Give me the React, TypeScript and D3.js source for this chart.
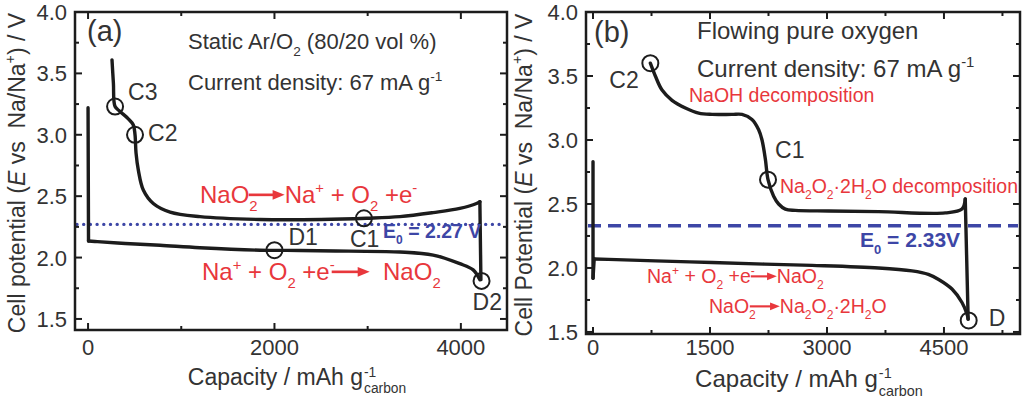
import React, { useEffect, useRef } from "react";
import * as d3 from "d3";

// (a) static Ar/O2 : discharge then charge (capacity mAh/g, potential V)
const dischargeA_cap = [0, 5, 100, 400, 772, 1200, 1845, 2273, 2800, 3346, 3703, 3989, 4132, 4204];
const dischargeA_v = [3.22, 2.135, 2.13, 2.115, 2.1, 2.08, 2.06, 2.058, 2.052, 2.045, 2.02, 1.95, 1.9, 1.82];
const chargeA_cap = [4215, 4204, 4168, 3989, 3703, 3346, 2988, 2500, 1845, 1201, 880, 700, 593, 540, 515, 504, 486, 432, 343, 290, 272, 257];
const chargeA_v = [1.82, 2.455, 2.44, 2.4, 2.366, 2.333, 2.32, 2.31, 2.31, 2.333, 2.37, 2.44, 2.55, 2.71, 2.85, 3.0, 3.08, 3.13, 3.19, 3.23, 3.42, 3.61];
const markerA_names = ["C3", "C2", "C1", "D1", "D2"];
const markerA_cap = [290, 504, 2960, 2000, 4222];
const markerA_v = [3.23, 3.0, 2.32, 2.06, 1.81];
const e0A = 2.27;

// (b) flowing pure oxygen
const dischargeB_cap = [0, 0, 15, 300, 800, 1526, 2200, 2808, 3662, 4090, 4300, 4432, 4603, 4731, 4795, 4810];
const dischargeB_v = [2.83, 1.92, 2.07, 2.065, 2.055, 2.043, 2.03, 2.02, 2.0, 1.977, 1.95, 1.91, 1.835, 1.73, 1.64, 1.6];
const chargeB_cap = [4810, 4773, 4731, 4517, 3662, 3021, 2594, 2466, 2380, 2316, 2244, 2210, 2167, 2124, 2038, 1910, 1782, 1526, 1355, 1184, 1013, 885, 799, 735];
const chargeB_v = [1.6, 2.54, 2.46, 2.43, 2.44, 2.445, 2.45, 2.46, 2.5, 2.56, 2.69, 2.85, 3.0, 3.08, 3.16, 3.2, 3.2, 3.2, 3.21, 3.25, 3.31, 3.39, 3.5, 3.6];
const markerB_names = ["C2", "C1", "D"];
const markerB_cap = [735, 2244, 4817];
const markerB_v = [3.6, 2.69, 1.59];
const e0B = 2.33;

const yMajor = [1.5, 2.0, 2.5, 3.0, 3.5, 4.0];
const yMinor = [1.75, 2.25, 2.75, 3.25, 3.75];
const xMajorA = [0, 2000, 4000];
const xMinorA = [1000, 3000];
const xMajorB = [0, 1500, 3000, 4500];
const xMinorB = [750, 2250, 3750, 5250];

const FONT = "'Liberation Sans', Arial, Helvetica, sans-serif";
const INK = "#333333";
const LINE = "#1c1c1c";
const RED = "#e8373c";
const BLUE = "#3d46a6";

type Run = { t?: string; sub?: boolean; sup?: boolean; italic?: boolean; arrow?: number; back?: number; stack?: [string, string] };

// draws a run of text pieces left to right, returns total width
function rich(g: any, x: number, y: number, runs: Run[], size: number, color: string, weight = "normal") {
  let cx = x;
  runs.forEach((r) => {
    if (r.arrow) {
      const x0 = cx - (r.back || 0);
      const x1 = x0 + r.arrow;
      const ay = y - size * 0.34;
      const hl = size * 0.5;
      const hw = size * 0.2;
      g.append("line").attr("x1", x0).attr("x2", x1 - hl + 1).attr("y1", ay).attr("y2", ay)
        .attr("stroke", color).attr("stroke-width", size * 0.11);
      g.append("path").attr("d", `M${x1},${ay}L${x1 - hl},${ay - hw}L${x1 - hl},${ay + hw}Z`).attr("fill", color);
      cx = x1;
      return;
    }
    if (r.stack) {
      const fs = size * 0.6;
      const a = g.append("text").attr("x", cx + 1).attr("y", y - size * 0.36).attr("font-size", fs)
        .attr("fill", color).text(r.stack[0]);
      const b = g.append("text").attr("x", cx + 1).attr("y", y + size * 0.36).attr("font-size", fs)
        .attr("fill", color).text(r.stack[1]);
      cx += Math.max(a.node().getComputedTextLength(), b.node().getComputedTextLength()) + 1;
      return;
    }
    const small = r.sub || r.sup;
    const fs = small ? size * 0.62 : size;
    const dy = r.sub ? size * 0.32 : r.sup ? -size * 0.42 : 0;
    const t = g.append("text").attr("x", cx).attr("y", y + dy).attr("font-size", fs)
      .attr("fill", color).attr("font-weight", weight)
      .style("white-space", "pre").style("font-style", r.italic ? "italic" : null)
      .text(r.t);
    cx += t.node().getComputedTextLength();
  });
  return cx - x;
}

type Series = { cap: number[]; v: number[]; corners: number[] };
type Panel = {
  x0: number; x1: number; y0: number; y1: number;
  xDom: [number, number]; yDom: [number, number];
  xMajor: number[]; xMinor: number[];
  series: Series[];
  markers: { names: string[]; cap: number[]; v: number[]; off: [number, number][] };
  e0: number; e0Dash: string; e0Cap: "round" | "butt"; e0Width: number;
  yLabelWord: string; yLabelX: number;
  xLabelSize: number; xLabelBase: number;
};

export default function App() {
  const svgRef = useRef<SVGSVGElement>(null);

  useEffect(() => {
    const svg = d3.select(svgRef.current);
    svg.selectAll("*").remove();
    svg.attr("font-family", FONT);

    const panels: Panel[] = [
      {
        x0: 75, x1: 507, y0: 12, y1: 330,
        xDom: [-140, 4495], yDom: [1.41, 4.0],
        xMajor: xMajorA, xMinor: xMinorA,
        series: [
          { cap: dischargeA_cap, v: dischargeA_v, corners: [1] },
          { cap: chargeA_cap, v: chargeA_v, corners: [1] },
        ],
        markers: { names: markerA_names, cap: markerA_cap, v: markerA_v, off: [[13, -7], [13, 6], [-14, 29], [14, -5], [-9, 29]] },
        e0: e0A, e0Dash: "0 6.7", e0Cap: "round", e0Width: 3.4,
        yLabelWord: "potential", yLabelX: 25,
        xLabelSize: 23, xLabelBase: 385,
      },
      {
        x0: 586, x1: 1020, y0: 12, y1: 334,
        xDom: [-90, 5475], yDom: [1.484, 4.0],
        xMajor: xMajorB, xMinor: xMinorB,
        series: [
          { cap: dischargeB_cap, v: dischargeB_v, corners: [1, 2] },
          { cap: chargeB_cap, v: chargeB_v, corners: [1] },
        ],
        markers: { names: markerB_names, cap: markerB_cap, v: markerB_v, off: [[-41, 25], [7, -22], [20, 6]] },
        e0: e0B, e0Dash: "13 7", e0Cap: "butt", e0Width: 3.6,
        yLabelWord: "Potential", yLabelX: 532,
        xLabelSize: 24, xLabelBase: 387,
      },
    ];

    const scales = panels.map((p) => {
      const g = svg.append("g");
      const x = d3.scaleLinear().domain(p.xDom).range([p.x0, p.x1]);
      const y = d3.scaleLinear().domain(p.yDom).range([p.y1, p.y0]);

      // E0 reference line
      g.append("line").attr("x1", p.x0 + 2).attr("x2", p.x1 - 2).attr("y1", y(p.e0)).attr("y2", y(p.e0))
        .attr("stroke", BLUE).attr("stroke-width", p.e0Width)
        .attr("stroke-dasharray", p.e0Dash).attr("stroke-linecap", p.e0Cap);

      // frame with inward ticks
      g.append("rect").attr("x", p.x0).attr("y", p.y0).attr("width", p.x1 - p.x0).attr("height", p.y1 - p.y0)
        .attr("fill", "none").attr("stroke", LINE).attr("stroke-width", 2.5);
      const tk = (x1: number, y1: number, x2: number, y2: number) =>
        g.append("line").attr("x1", x1).attr("y1", y1).attr("x2", x2).attr("y2", y2)
          .attr("stroke", LINE).attr("stroke-width", 2);
      p.xMajor.forEach((d) => { tk(x(d), p.y1, x(d), p.y1 - 7); tk(x(d), p.y0, x(d), p.y0 + 7); });
      p.xMinor.forEach((d) => { tk(x(d), p.y1, x(d), p.y1 - 4); tk(x(d), p.y0, x(d), p.y0 + 4); });
      yMajor.forEach((d) => { tk(p.x0, y(d), p.x0 + 7, y(d)); tk(p.x1, y(d), p.x1 - 7, y(d)); });
      yMinor.forEach((d) => { if (d > p.yDom[0]) { tk(p.x0, y(d), p.x0 + 4, y(d)); tk(p.x1, y(d), p.x1 - 4, y(d)); } });

      // tick labels
      g.selectAll(".xl").data(p.xMajor).join("text")
        .attr("x", (d) => x(d)).attr("y", 355).attr("text-anchor", "middle")
        .attr("font-size", 22).attr("fill", INK).text((d) => String(d));
      g.selectAll(".yl").data(yMajor).join("text")
        .attr("x", p.x0 - 8).attr("y", (d) => y(d) + 8).attr("text-anchor", "end")
        .attr("font-size", 22).attr("fill", INK).text((d) => d.toFixed(1));

      // curves: smooth between corners, sharp at the corner points
      const line = d3.line<[number, number]>().x((d) => x(d[0])).y((d) => y(d[1])).curve(d3.curveCatmullRom.alpha(0.5));
      p.series.forEach((s) => {
        const pts = s.cap.map((c, i) => [c, s.v[i]] as [number, number]);
        const cuts = [0, ...s.corners, pts.length - 1];
        for (let k = 0; k < cuts.length - 1; k++) {
          g.append("path").attr("d", line(pts.slice(cuts[k], cuts[k + 1] + 1)))
            .attr("fill", "none").attr("stroke", LINE).attr("stroke-width", 3.4)
            .attr("stroke-linejoin", "round").attr("stroke-linecap", "round");
        }
      });

      // markers
      p.markers.names.forEach((n, i) => {
        const cx = x(p.markers.cap[i]);
        const cy = y(p.markers.v[i]);
        g.append("circle").attr("cx", cx).attr("cy", cy).attr("r", 8)
          .attr("fill", "none").attr("stroke", LINE).attr("stroke-width", 2);
        g.append("text").attr("x", cx + p.markers.off[i][0]).attr("y", cy + p.markers.off[i][1])
          .attr("font-size", 23).attr("fill", INK).text(n);
      });

      // x label
      const xl = svg.append("g");
      const w = rich(xl, 0, 0, [{ t: "Capacity / mAh g" }, { stack: ["-1", "carbon"] }], p.xLabelSize, INK);
      xl.attr("transform", `translate(${(p.x0 + p.x1) / 2 - w / 2 + 6},${p.xLabelBase})`);

      // y label
      const yl = svg.append("g");
      const wy = rich(yl, 0, 0, [
        { t: `Cell ${p.yLabelWord} (` }, { t: "E", italic: true }, { t: " vs  Na/Na" }, { t: "+", sup: true }, { t: ") / V" },
      ], 23, INK);
      yl.attr("transform", `translate(${p.yLabelX},${(p.y0 + p.y1) / 2 + wy / 2 + 2}) rotate(-90)`);

      return { g, x, y };
    });

    // panel (a) annotations
    const ga = scales[0].g;
    ga.append("text").attr("x", 87).attr("y", 41).attr("font-size", 29).attr("fill", INK).text("(a)");
    rich(ga, 188, 49, [{ t: "Static Ar/O" }, { t: "2", sub: true }, { t: " (80/20 vol %)" }], 22, INK);
    rich(ga, 188, 90, [{ t: "Current density: 67 mA g" }, { t: "-1", sup: true }], 22, INK);
    rich(ga, 200, 203, [{ t: "NaO" }, { t: "2", sub: true }, { arrow: 36, back: 9 }, { t: "Na" }, { t: "+", sup: true },
      { t: " + O" }, { t: "2", sub: true }, { t: " +e" }, { t: "-", sup: true }], 24, RED);
    rich(ga, 202, 280, [{ t: "Na" }, { t: "+", sup: true }, { t: " + O" }, { t: "2", sub: true }, { t: " +e" },
      { t: "-", sup: true }, { arrow: 38, back: 3 }, { t: "  NaO" }, { t: "2", sub: true }], 24, RED);
    rich(ga, 383, 238, [{ t: "E" }, { t: "0", sub: true }, { t: " = 2.27 V" }], 19.5, BLUE, "bold");

    // panel (b) annotations
    const gb = scales[1].g;
    gb.append("text").attr("x", 594).attr("y", 42).attr("font-size", 29).attr("fill", INK).text("(b)");
    rich(gb, 697, 39, [{ t: "Flowing pure oxygen" }], 24, INK);
    rich(gb, 697, 77, [{ t: "Current density: 67 mA g" }, { t: "-1", sup: true }], 24, INK);
    rich(gb, 689, 102, [{ t: "NaOH decomposition" }], 19.5, RED);
    rich(gb, 780, 193, [{ t: "Na" }, { t: "2", sub: true }, { t: "O" }, { t: "2", sub: true }, { t: "·2H" }, { t: "2", sub: true },
      { t: "O decomposition" }], 19.5, RED);
    rich(gb, 647, 283, [{ t: "Na" }, { t: "+", sup: true }, { t: " + O" }, { t: "2", sub: true }, { t: " +e" },
      { t: "-", sup: true }, { arrow: 26, back: 4 }, { t: "NaO" }, { t: "2", sub: true }], 19.5, RED);
    rich(gb, 709, 313, [{ t: "NaO" }, { t: "2", sub: true }, { arrow: 30, back: 6 }, { t: "Na" }, { t: "2", sub: true },
      { t: "O" }, { t: "2", sub: true }, { t: "·2H" }, { t: "2", sub: true }, { t: "O" }], 19.5, RED);
    rich(gb, 860, 247, [{ t: "E" }, { t: "0", sub: true }, { t: " = 2.33V" }], 21, BLUE, "bold");
  }, []);

  return (
    <svg ref={svgRef} width={1024} height={398}
      style={{ position: "absolute", left: 0, top: 0, background: "#fff" }} />
  );
}
